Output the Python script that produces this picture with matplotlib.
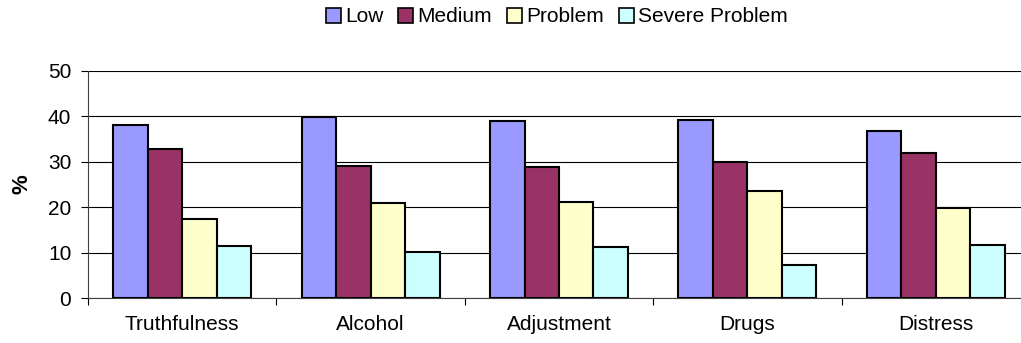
import numpy as np
import matplotlib.pyplot as plt
from matplotlib.patches import Patch

plt.rcParams['font.family'] = ['Liberation Sans', 'DejaVu Sans']

categories = ['Truthfulness', 'Alcohol', 'Adjustment', 'Drugs', 'Distress']
series = ['Low', 'Medium', 'Problem', 'Severe Problem']
low = [38.0, 39.8, 39.0, 39.3, 36.7]
medium = [32.9, 29.1, 28.8, 30.0, 32.0]
problem = [17.4, 20.9, 21.2, 23.6, 19.8]
severe = [11.5, 10.2, 11.2, 7.3, 11.6]
colors = ['#9999FF', '#993366', '#FFFFCC', '#CCFFFF']

fig = plt.figure(figsize=(10.21, 3.43), dpi=100)
ax = fig.add_axes([88 / 1021, 1 - 298 / 343, 942 / 1021, 227 / 343])

x = np.arange(len(categories)) + 0.5
w = 0.183
for i, vals in enumerate([low, medium, problem, severe]):
    ax.bar(x + (i - 1.5) * w, vals, w, color=colors[i], edgecolor='black',
           linewidth=1.5, zorder=3)

ax.set_xlim(0, len(categories))
ax.set_ylim(0, 50)
ax.set_yticks(range(0, 51, 10))
ax.yaxis.grid(True, color='black', linewidth=0.8, zorder=0)
ax.tick_params(axis='y', direction='out', length=5, width=0.8, pad=7, labelsize=15)

ax.set_xticks(range(len(categories) + 1))
ax.set_xticklabels([])
ax.tick_params(axis='x', which='major', direction='out', length=5, width=0.8)
ax.set_xticks(x, minor=True)
ax.set_xticklabels(categories, minor=True)
ax.tick_params(axis='x', which='minor', length=0, pad=12, labelsize=15)

for s in ['top', 'right']:
    ax.spines[s].set_visible(False)
ax.spines['left'].set_color('#404040')
ax.spines['bottom'].set_color('#404040')

ax.set_ylabel('%', fontsize=16, fontweight='bold')
ax.yaxis.set_label_coords(-0.059, 0.5)

handles = [Patch(facecolor=c, edgecolor='black', linewidth=1.2) for c in colors]
fig.legend(handles, series, loc='center', bbox_to_anchor=(557 / 1021, 1 - 17 / 343),
           ncol=4, frameon=False, fontsize=15, handlelength=0.72,
           handleheight=0.72, handletextpad=0.2, columnspacing=0.72,
           borderpad=0)

fig.savefig('out.png', dpi=100)
